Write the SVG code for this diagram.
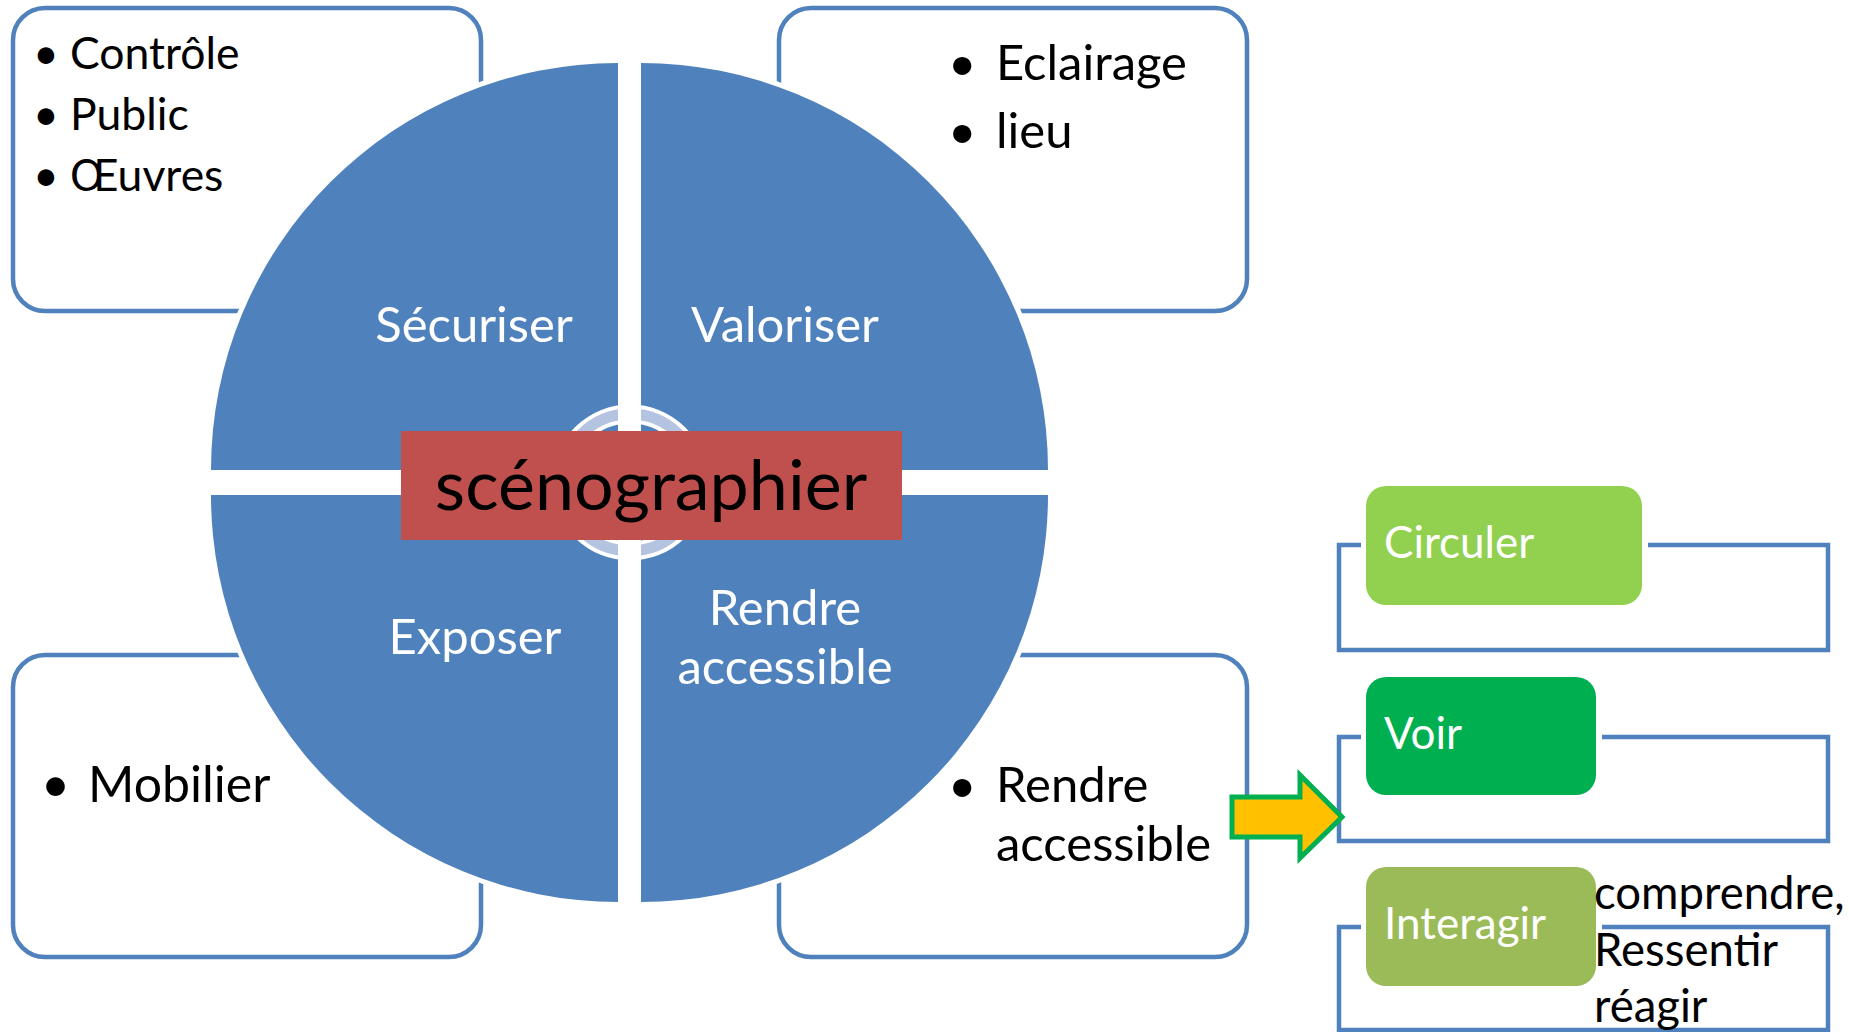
<svg xmlns="http://www.w3.org/2000/svg" width="1849" height="1032" viewBox="0 0 1849 1032">
<style>
.box{fill:#fff;stroke:#4F81BD;stroke-width:4.5}
.quad{fill:#4F81BD;stroke:#fff;stroke-width:10;paint-order:stroke}
.t{font-family:Lato,"Liberation Sans",sans-serif}
.blk{fill:#000}
.wht{fill:#fff}
.br{fill:none;stroke:#4F81BD;stroke-width:4.5}
</style>
<rect width="1849" height="1032" fill="#fff"/>
<g id="box-securiser">
<rect class="box" x="13" y="8" width="468" height="303" rx="32"/>
<text class="t blk" font-size="44.5"><tspan x="33" y="69">•</tspan><tspan x="70" y="69">Contrôle</tspan><tspan x="33" y="130">•</tspan><tspan x="70" y="130">Public</tspan><tspan x="33" y="191">•</tspan><tspan x="70" y="191">Œuvres</tspan></text>
</g>
<g id="box-valoriser">
<rect class="box" x="779" y="8" width="468" height="303" rx="32"/>
<text class="t blk" font-size="49"><tspan x="948" y="80">•</tspan><tspan x="996" y="80">Eclairage</tspan><tspan x="948" y="148">•</tspan><tspan x="996" y="148">lieu</tspan></text>
</g>
<g id="box-exposer">
<rect class="box" x="13" y="655" width="468" height="302" rx="32"/>
<text class="t blk" font-size="50"><tspan x="41" y="802">•</tspan><tspan x="88" y="802">Mobilier</tspan></text>
</g>
<g id="box-rendre">
<rect class="box" x="779" y="655" width="468" height="302" rx="32"/>
<text class="t blk" font-size="49"><tspan x="948" y="802">•</tspan><tspan x="996" y="802">Rendre</tspan><tspan x="996" y="861">accessible</tspan></text>
</g>
<g id="q-securiser">
<path class="quad" d="M618,470 L211,470 A407,407 0 0 1 618,63 Z"/>
<text class="t wht" font-size="49" text-anchor="middle" x="474" y="342">Sécuriser</text>
</g>
<g id="q-valoriser">
<path class="quad" d="M641,470 L641,63 A407,407 0 0 1 1048,470 Z"/>
<text class="t wht" font-size="49" text-anchor="middle" x="785" y="342">Valoriser</text>
</g>
<g id="q-exposer">
<path class="quad" d="M618,495 L618,902 A407,407 0 0 1 211,495 Z"/>
<text class="t wht" font-size="49" text-anchor="middle" x="475" y="654">Exposer</text>
</g>
<g id="q-rendre">
<path class="quad" d="M641,495 L1048,495 A407,407 0 0 1 641,902 Z"/>
<text class="t wht" font-size="49" text-anchor="middle"><tspan x="785" y="625">Rendre</tspan><tspan x="785" y="684">accessible</tspan></text>
</g>
<g id="center-ring">
<circle cx="630" cy="482.5" r="68.5" fill="none" stroke="#fff" stroke-width="19"/>
<circle cx="630" cy="482.5" r="68.5" fill="none" stroke="#B3C3E0" stroke-width="11"/>
<rect x="618" y="400" width="23" height="40" fill="#fff"/>
<rect x="618" y="525" width="23" height="42" fill="#fff"/>
</g>
<g id="scenographier">
<rect x="401" y="431" width="501" height="109" fill="#C0504D"/>
<text class="t blk" font-size="70" text-anchor="middle" x="651" y="510">scénographier</text>
</g>
<g id="connectors">
<path class="br" d="M1361,545 L1339,545 L1339,650 L1828,650 L1828,545 L1648,545"/>
<path class="br" d="M1361,737 L1339,737 L1339,841 L1828,841 L1828,737 L1602,737"/>
<path class="br" d="M1361,927 L1339,927 L1339,1030 L1828,1030 L1828,927 L1602,927"/>
<polygon points="1232,797 1300,797 1300,775 1342,817 1300,858 1300,837 1232,837" fill="#FFC000" stroke="#00B050" stroke-width="5"/>
</g>
<g id="circuler">
<rect x="1366" y="486" width="276" height="119" rx="20" fill="#92D050"/>
<text class="t wht" font-size="44" x="1384" y="558">Circuler</text>
</g>
<g id="voir">
<rect x="1366" y="677" width="230" height="118" rx="20" fill="#00B050"/>
<text class="t wht" font-size="44" x="1384" y="749">Voir</text>
</g>
<g id="interagir">
<rect x="1366" y="867" width="230" height="119" rx="20" fill="#9BBB59"/>
<text class="t wht" font-size="44" x="1384" y="939">Interagir</text>
</g>
<g id="interagir-text">
<text class="t blk" font-size="45.5"><tspan x="1594" y="909">comprendre,</tspan><tspan x="1594" y="966">Ressentir</tspan><tspan x="1594" y="1022">réagir</tspan></text>
</g>
</svg>
